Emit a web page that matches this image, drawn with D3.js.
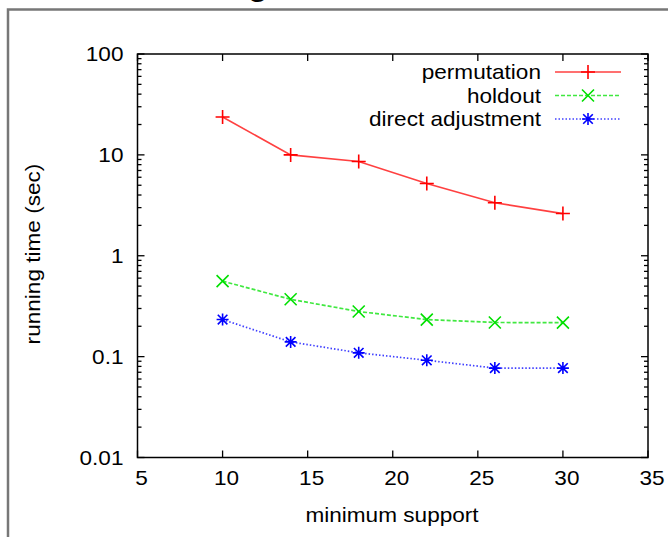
<!DOCTYPE html>
<html>
<head>
<meta charset="utf-8">
<script src="https://cdn.jsdelivr.net/npm/d3@7"></script>
<style>
  body { margin: 0; background: #fff; }
  svg { display: block; font-family: "Liberation Sans", Arial, sans-serif; }
</style>
</head>
<body>
<script>
//Chart data
var supports = [10, 14, 18, 22, 26, 30];
var permutation = [23.7, 10.0, 8.6, 5.2, 3.35, 2.62];
var holdout = [0.56, 0.37, 0.28, 0.233, 0.218, 0.217];
var directAdjustment = [0.233, 0.14, 0.109, 0.092, 0.077, 0.077];
var seriesNames = ["permutation", "holdout", "direct adjustment"];
var xTicks = [5, 10, 15, 20, 25, 30, 35];
var yTicks = [0.01, 0.1, 1, 10, 100];

(function () {
    var width = 668, height = 537;
    var plotLeft = 137.5, plotRight = 648, plotTop = 54, plotBottom = 457.5;
    var fontSize = "20px", stretch = 1.13;

    var svg = d3.select("body").append("svg")
        .attr("width", width)
        .attr("height", height);

//Outer frame (cut off on right and bottom)
    svg.append("path")
        .attr("d", "M8,540 L8,9.5 L670,9.5")
        .attr("fill", "none")
        .attr("stroke", "#777")
        .attr("stroke-width", 2.5);

//Descender of the clipped title above
    svg.append("text")
        .attr("x", 258)
        .attr("y", -5)
        .attr("text-anchor", "middle")
        .style("font-size", "34px")
        .style("font-weight", "bold")
        .text("g");

    var x = d3.scaleLinear().domain([5, 35]).range([plotLeft, plotRight]);
    var y = d3.scaleLog().domain([0.01, 100]).range([plotBottom, plotTop]);

//Horizontally stretched text, like the reference rendering
    function label(parent, tx, ty, anchor, str, rotate) {
        var g = parent.append("g")
            .attr("transform", "translate(" + tx + "," + ty + ")" + (rotate ? " rotate(-90)" : "") + " scale(" + stretch + ",1)");
        return g.append("text")
            .attr("text-anchor", anchor)
            .style("font-size", fontSize)
            .text(str);
    }

//Ticks (gnuplot style, pointing inward on all sides)
    var minor = [];
    yTicks.slice(0, -1).forEach(function (d) {
        for (var k = 2; k <= 9; k++) minor.push(d * k);
    });

    var ticks = svg.append("g").attr("stroke", "#000").attr("stroke-width", 1.3);
    yTicks.forEach(function (d) {
        ticks.append("line").attr("x1", plotLeft).attr("x2", plotLeft + 7).attr("y1", y(d)).attr("y2", y(d));
        ticks.append("line").attr("x1", plotRight).attr("x2", plotRight - 7).attr("y1", y(d)).attr("y2", y(d));
    });
    minor.forEach(function (d) {
        ticks.append("line").attr("x1", plotLeft).attr("x2", plotLeft + 4).attr("y1", y(d)).attr("y2", y(d));
        ticks.append("line").attr("x1", plotRight).attr("x2", plotRight - 4).attr("y1", y(d)).attr("y2", y(d));
    });
    xTicks.forEach(function (d) {
        ticks.append("line").attr("x1", x(d)).attr("x2", x(d)).attr("y1", plotBottom).attr("y2", plotBottom - 7);
        ticks.append("line").attr("x1", x(d)).attr("x2", x(d)).attr("y1", plotTop).attr("y2", plotTop + 7);
    });

//Plot border
    svg.append("rect")
        .attr("x", plotLeft)
        .attr("y", plotTop)
        .attr("width", plotRight - plotLeft)
        .attr("height", plotBottom - plotTop)
        .attr("fill", "none")
        .attr("stroke", "#000")
        .attr("stroke-width", 1.5);

//Tick labels
    yTicks.forEach(function (d) {
        label(svg, plotLeft - 14, y(d) + 7, "end", d3.format("~g")(d));
    });
    xTicks.forEach(function (d) {
        label(svg, x(d) + 4, 485, "middle", d);
    });

//Axis titles
    label(svg, 392, 522, "middle", "minimum support");
    label(svg, 40, 254, "middle", "running time (sec)", true);

//Series
    var series = [
        { name: seriesNames[0], values: permutation, color: "#ff0000", dash: null, marker: "plus" },
        { name: seriesNames[1], values: holdout, color: "#00e000", dash: "4,2", marker: "cross" },
        { name: seriesNames[2], values: directAdjustment, color: "#0000ff", dash: "1.5,2", marker: "star" }
    ];

    function markerPath(type, s) {
        var p = "M" + (-s) + ",0L" + s + ",0M0," + (-s) + "L0," + s;
        var c = "M" + (-s) + "," + (-s) + "L" + s + "," + s + "M" + (-s) + "," + s + "L" + s + "," + (-s);
        if (type == "plus") return p;
        if (type == "cross") return c;
        var t = s * 0.8;
        return p + "M" + (-t) + "," + (-t) + "L" + t + "," + t + "M" + (-t) + "," + t + "L" + t + "," + (-t);
    }

    var line = d3.line()
        .x(function (d, i) { return x(supports[i]); })
        .y(function (d) { return y(d); });

    series.forEach(function (s) {
        svg.append("path")
            .datum(s.values)
            .attr("d", line)
            .attr("fill", "none")
            .attr("stroke", s.color)
            .attr("stroke-opacity", 0.75)
            .attr("stroke-width", 1.7)
            .attr("stroke-dasharray", s.dash);

        svg.selectAll(".m-" + s.marker)
            .data(s.values)
            .enter()
            .append("path")
            .attr("class", "m-" + s.marker)
            .attr("transform", function (d, i) { return "translate(" + x(supports[i]) + "," + y(d) + ")"; })
            .attr("d", markerPath(s.marker, s.marker == "plus" ? 7 : 6))
            .attr("fill", "none")
            .attr("stroke", s.color)
            .attr("stroke-width", 1.6);
    });

//Legend
    series.forEach(function (s, i) {
        var ly = 72 + i * 23.5;
        label(svg, 541, ly + 7, "end", s.name);

        svg.append("line")
            .attr("x1", 555)
            .attr("x2", 621)
            .attr("y1", ly)
            .attr("y2", ly)
            .attr("stroke", s.color)
            .attr("stroke-opacity", 0.75)
            .attr("stroke-width", 1.7)
            .attr("stroke-dasharray", s.dash);

        svg.append("path")
            .attr("transform", "translate(588," + ly + ")")
            .attr("d", markerPath(s.marker, s.marker == "plus" ? 7 : 6))
            .attr("fill", "none")
            .attr("stroke", s.color)
            .attr("stroke-width", 1.6);
    });
})();
</script>
</body>
</html>
